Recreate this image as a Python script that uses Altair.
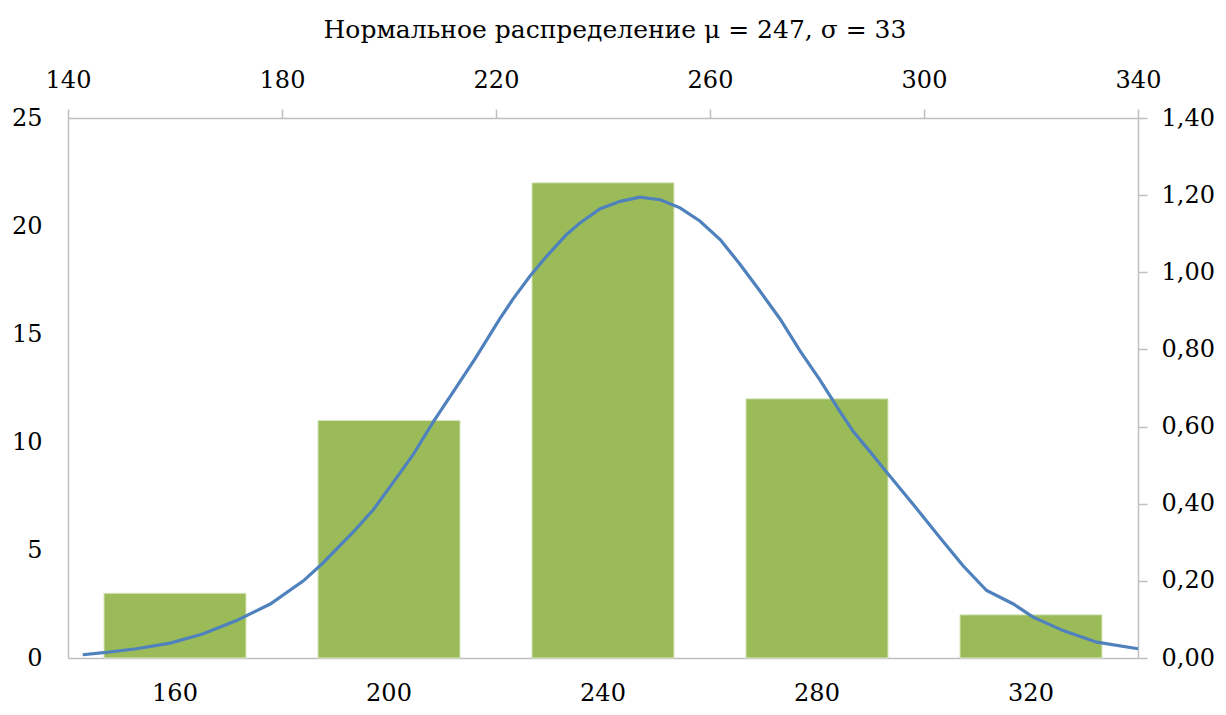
import altair as alt
import pandas as pd

# Histogram (bottom / left axes)
categories = ["160", "200", "240", "280", "320"]
counts = [3, 11, 22, 12, 2]

# Normal curve (top / right axes)
curve_x = [142.75, 146.6, 152.8, 159.1, 165.3, 171.5, 177.8, 184.0, 187.7, 193.6,
           197.1, 201.4, 204.5, 208.3, 212.0, 216.1, 220.7, 223.2, 226.4, 229.5,
           233.2, 235.7, 239.4, 243.2, 246.9, 250.7, 254.4, 258.1, 261.9, 265.6,
           269.3, 273.1, 276.8, 280.6, 284.3, 286.8, 289.9, 293.3, 298.0, 303.0,
           307.3, 311.7, 316.7, 320.4, 326.0, 332.3, 340.0]
curve_y = [0.0085, 0.0137, 0.024, 0.0387, 0.0626, 0.097, 0.140, 0.200, 0.247, 0.331,
           0.385, 0.467, 0.527, 0.613, 0.690, 0.776, 0.879, 0.931, 0.991, 1.042,
           1.098, 1.128, 1.164, 1.184, 1.195, 1.188, 1.167, 1.133, 1.085, 1.021,
           0.952, 0.879, 0.797, 0.720, 0.639, 0.587, 0.535, 0.477, 0.398, 0.312,
           0.239, 0.175, 0.140, 0.106, 0.071, 0.041, 0.024]

top_ticks = [140, 180, 220, 260, 300, 340]
left_ticks = [0, 5, 10, 15, 20, 25]
right_ticks = [0, 0.2, 0.4, 0.6, 0.8, 1.0, 1.2, 1.4]

title_text = "Нормальное распределение μ = 247, σ = 33"

FONT = "DejaVu Serif"
AXIS_COLOR = "#BFBFBF"

bars_df = pd.DataFrame({"cat": categories, "count": counts})
line_df = pd.DataFrame({"x": curve_x, "y": curve_y})

common_axis = dict(
    labelFont=FONT, labelFontSize=24, labelColor="#000000", labelFlush=False,
    domainColor=AXIS_COLOR, domainWidth=1.5, tickColor=AXIS_COLOR, tickWidth=1.5,
    grid=False, title=None,
)

bars = alt.Chart(bars_df).mark_bar(color="#9BBB59", stroke="#DDE8C8", strokeWidth=1).encode(
    x=alt.X("cat:O", sort=categories,
            scale=alt.Scale(paddingInner=0.336, paddingOuter=0.168),
            axis=alt.Axis(orient="bottom", ticks=False, labelAngle=0, labelPadding=23,
                          **common_axis)),
    y=alt.Y("count:Q", scale=alt.Scale(domain=[0, 25], nice=False),
            axis=alt.Axis(orient="left", values=left_ticks, ticks=False, labelPadding=26,
                          **common_axis)),
)

line = alt.Chart(line_df).mark_line(color="#4F81BD", strokeWidth=3.2).encode(
    x=alt.X("x:Q", scale=alt.Scale(domain=[140, 340], nice=False, zero=False),
            axis=alt.Axis(orient="top", values=top_ticks, tickSize=9, labelPadding=17,
                          format="d", **common_axis)),
    y=alt.Y("y:Q", scale=alt.Scale(domain=[0, 1.4], nice=False),
            axis=alt.Axis(orient="right", values=right_ticks, tickSize=9, labelPadding=14,
                          labelExpr="replace(format(datum.value, '.2f'), '.', ',')",
                          **common_axis)),
    order="x:Q",
)

chart = alt.layer(bars, line).resolve_scale(
    x="independent", y="independent"
).resolve_axis(
    x="independent", y="independent"
).properties(
    width=1070,
    height=540,
    title=alt.TitleParams(text=title_text, font=FONT, fontSize=25, fontWeight="normal",
                          color="#000000", anchor="middle", dx=12, offset=25),
    autosize=alt.AutoSizeParams(type="none"),
    padding={"left": 60, "top": 110, "right": 80, "bottom": 47},
).configure(
    background="white", font=FONT
).configure_view(
    stroke=None
)

chart.save("out.html", embed_options={"renderer": "svg", "actions": False})
